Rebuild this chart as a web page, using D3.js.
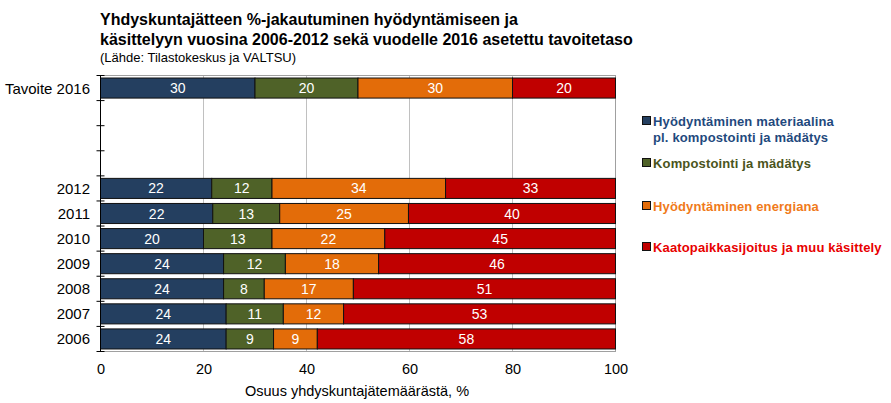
<!DOCTYPE html>
<html><head><meta charset="utf-8">
<script src="https://cdn.jsdelivr.net/npm/d3@7"></script>
<style>body{margin:0;background:#fff;font-family:"Liberation Sans",Arial,sans-serif}</style>
</head><body><svg id="c" width="891" height="403"></svg>
<script>
const categories = ["Tavoite 2016","","","","2012","2011","2010","2009","2008","2007","2006"];
const seriesNames = ["Hyödyntäminen materiaalina\npl. kompostointi ja mädätys","Kompostointi ja mädätys","Hyödyntäminen energiana","Kaatopaikkasijoitus ja muu käsittely"];
const materiaali = [30,null,null,null,21.6,21.8,20.0,23.9,23.9,24.4,24.4];
const kompostointi = [20,null,null,null,11.7,13.0,13.3,12.0,7.9,11.1,9.2];
const energia = [30,null,null,null,33.7,25.0,21.9,18.1,17.3,11.7,8.5];
const kaatopaikka = [20,null,null,null,33.0,40.2,44.8,46.0,50.9,52.8,57.9];
const xTicks = [0,20,40,60,80,100];
const fills = ["#243F60","#4F6228","#E36C09","#C00000"];
const legendColors = ["#1F497D","#4A5420","#F07A1A","#E80000"];

const svg = d3.select("#c");
const m = {l:100.5, r:615.5, t:75.5, b:351.5};
const x = d3.scaleLinear().domain([0,100]).range([m.l, m.r]);
const y = d3.scaleBand().domain(categories.map((c,i)=>i)).range([m.t, m.b]).paddingInner(0.2).paddingOuter(0.1);

// grid
svg.append("g").selectAll("line").data(xTicks.filter(d=>d>0 && d<100)).join("line")
  .attr("x1",d=>x(d)).attr("x2",d=>x(d)).attr("y1",m.t).attr("y2",m.b)
  .attr("stroke","#c0c0c0").attr("stroke-width",1);
// frame
svg.append("rect").attr("x",m.l).attr("y",m.t).attr("width",m.r-m.l).attr("height",m.b-m.t)
  .attr("fill","none").attr("stroke","#a0a0a0");

const series = [materiaali,kompostointi,energia,kaatopaikka];
const rows = categories.map((c,i)=>{
  let acc=0; const segs=[];
  series.forEach((s,k)=>{ if(s[i]!=null){ segs.push({i,k,x0:acc,x1:acc+s[i],v:s[i]}); acc+=s[i]; } });
  return segs;
}).flat();

const g = svg.append("g");
g.selectAll("rect").data(rows).join("rect")
  .attr("x",d=>x(d.x0)).attr("width",d=>x(Math.min(d.x1,100))-x(d.x0))
  .attr("y",d=>y(d.i)).attr("height",y.bandwidth())
  .attr("fill",d=>fills[d.k]).attr("stroke","#111").attr("stroke-width",1);
g.selectAll("text").data(rows).join("text")
  .attr("x",d=>x((d.x0+Math.min(d.x1,100))/2)).attr("y",d=>y(d.i)+y.bandwidth()/2+5)
  .attr("text-anchor","middle").attr("fill","#fff").attr("font-size",14)
  .text(d=>Math.round(d.v));

// left axis
const yAx = svg.append("g");
yAx.append("line").attr("x1",m.l).attr("x2",m.l).attr("y1",m.t).attr("y2",m.b).attr("stroke","#000");
const tickYs = d3.range(categories.length+1).map(i=>m.t+i*(m.b-m.t)/categories.length);
yAx.selectAll("line.t").data(tickYs).join("line").attr("class","t")
  .attr("x1",m.l-4).attr("x2",m.l+4).attr("y1",d=>d).attr("y2",d=>d).attr("stroke","#000");
yAx.selectAll("text").data(categories.map((c,i)=>({c,i})).filter(d=>d.c)).join("text")
  .attr("x",90).attr("y",d=>y(d.i)+y.bandwidth()/2+5.5).attr("text-anchor","end")
  .attr("font-size",15).attr("fill","#000").text(d=>d.c);

// bottom axis
const xAx = svg.append("g").attr("transform",`translate(0,${m.b})`)
  .call(d3.axisBottom(x).tickValues(xTicks).tickSize(0).tickPadding(12));
xAx.select(".domain").remove();
xAx.selectAll("text").attr("font-size",14.5).attr("fill","#000").attr("font-family","Liberation Sans, Arial, sans-serif");
svg.append("text").attr("x",357).attr("y",396).attr("text-anchor","middle").attr("font-size",14.5).attr("fill","#000")
  .text("Osuus yhdyskuntajätemäärästä, %");

// title
const t = svg.append("g");
t.append("text").attr("x",100).attr("y",25).attr("font-size",16).attr("font-weight","bold").attr("fill","#000")
  .text("Yhdyskuntajätteen %-jakautuminen hyödyntämiseen ja");
t.append("text").attr("x",100).attr("y",45).attr("font-size",16).attr("font-weight","bold").attr("fill","#000")
  .text("käsittelyyn vuosina 2006-2012 sekä vuodelle 2016 asetettu tavoitetaso");
t.append("text").attr("x",100).attr("y",62).attr("font-size",13).attr("fill","#000")
  .text("(Lähde:  Tilastokeskus ja VALTSU)");

// legend
const legY = [126,168,211,252];
const lg = svg.append("g");
seriesNames.forEach((n,k)=>{
  lg.append("rect").attr("x",642.5).attr("y",legY[k]-9.5).attr("width",8).attr("height",8)
    .attr("fill",fills[k]).attr("stroke","#111").attr("stroke-width",1);
  const lines = n.split("\n");
  lines.forEach((ln,j)=>{
    lg.append("text").attr("x",653).attr("y",legY[k]+j*16).attr("font-size",13).attr("font-weight","bold")
      .attr("letter-spacing",0.15).attr("fill",legendColors[k]).text(ln);
  });
});
</script></body></html>
